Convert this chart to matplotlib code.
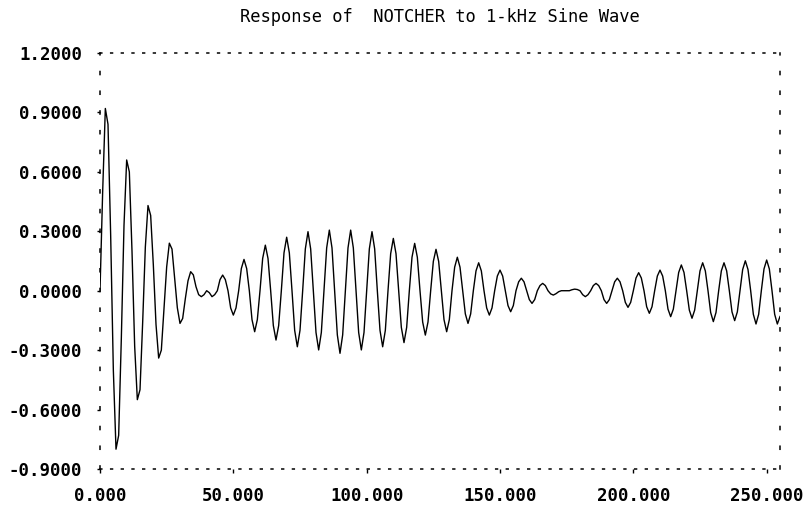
import numpy as np
import matplotlib
matplotlib.use('Agg')
import matplotlib.pyplot as plt

# Salida del filtro NOTCHER, una muestra por fila de 8 (periodo de 1 kHz a 8 kHz)
respuesta = [
    0.000, 0.500, 0.920, 0.840, 0.280, -0.400, -0.800, -0.730,
    -0.240, 0.330, 0.660, 0.600, 0.200, -0.280, -0.550, -0.500,
    -0.160, 0.220, 0.430, 0.380, 0.130, -0.170, -0.340, -0.300,
    -0.090, 0.120, 0.240, 0.210, 0.065, -0.086, -0.165, -0.140,
    -0.040, 0.050, 0.096, 0.080, 0.020, -0.020, -0.030, -0.020,
    0.000, -0.010, -0.030, -0.020, 0.000, 0.056, 0.079, 0.056,
    0.000, -0.087, -0.123, -0.087, 0.000, 0.112, 0.158, 0.112,
    0.000, -0.146, -0.207, -0.146, 0.000, 0.163, 0.230, 0.163,
    0.000, -0.176, -0.249, -0.176, 0.000, 0.191, 0.270, 0.191,
    0.000, -0.200, -0.283, -0.200, 0.000, 0.211, 0.298, 0.211,
    0.000, -0.211, -0.299, -0.211, 0.000, 0.216, 0.306, 0.216,
    0.000, -0.223, -0.316, -0.223, 0.000, 0.216, 0.306, 0.216,
    0.000, -0.211, -0.299, -0.211, 0.000, 0.211, 0.298, 0.211,
    0.000, -0.200, -0.283, -0.200, 0.000, 0.187, 0.264, 0.187,
    0.000, -0.185, -0.262, -0.185, 0.000, 0.169, 0.239, 0.169,
    0.000, -0.158, -0.224, -0.158, 0.000, 0.148, 0.209, 0.148,
    0.000, -0.146, -0.207, -0.146, 0.000, 0.119, 0.169, 0.119,
    0.000, -0.117, -0.165, -0.117, 0.000, 0.100, 0.141, 0.100,
    0.000, -0.087, -0.123, -0.087, 0.000, 0.074, 0.104, 0.074,
    0.000, -0.075, -0.106, -0.075, 0.000, 0.045, 0.063, 0.045,
    0.000, -0.045, -0.064, -0.045, 0.000, 0.026, 0.037, 0.026,
    0.000, -0.016, -0.022, -0.015, -0.005, 0.000, 0.000, 0.000,
    0.000, 0.005, 0.008, 0.006, 0.000, -0.020, -0.030, -0.020,
    0.000, 0.026, 0.037, 0.026, 0.000, -0.045, -0.064, -0.045,
    0.000, 0.045, 0.063, 0.045, 0.000, -0.059, -0.084, -0.059,
    0.000, 0.064, 0.091, 0.064, 0.000, -0.081, -0.114, -0.081,
    0.000, 0.074, 0.104, 0.074, 0.000, -0.093, -0.131, -0.093,
    0.000, 0.092, 0.130, 0.092, 0.000, -0.098, -0.139, -0.098,
    0.000, 0.100, 0.141, 0.100, 0.000, -0.110, -0.156, -0.110,
    0.000, 0.100, 0.141, 0.100, 0.000, -0.107, -0.151, -0.107,
    0.000, 0.107, 0.151, 0.107, 0.000, -0.119, -0.168, -0.119,
    0.000, 0.110, 0.155, 0.110, 0.000, -0.119, -0.168, -0.130,
]
amostras = np.arange(len(respuesta))

ticks_x = [0, 50, 100, 150, 200, 250]
ticks_y = [-0.9, -0.6, -0.3, 0.0, 0.3, 0.6, 0.9, 1.2]
titulo = 'Response of  NOTCHER to 1-kHz Sine Wave'

plt.rcParams['lines.scale_dashes'] = False
fig = plt.figure(figsize=(8.04, 5.09), dpi=100)
ax = fig.add_axes([100 / 804, 40 / 509, 680 / 804, 416 / 509])

ax.plot(amostras, respuesta, color='black', linewidth=1.0)

ax.set_xlim(0, 255)
ax.set_ylim(-0.9, 1.2)

# marco punteado como en la pantalla original
for lado in ['top', 'bottom']:
    ax.spines[lado].set_linestyle((0, (1.3, 6.4)))
    ax.spines[lado].set_linewidth(1.1)
for lado in ['left', 'right']:
    ax.spines[lado].set_linestyle((0, (2.2, 12.0)))
    ax.spines[lado].set_linewidth(1.1)

ax.set_xticks(ticks_x)
ax.set_xticklabels([f'{v:.3f}' for v in ticks_x])
ax.set_yticks(ticks_y)
ax.set_yticklabels([f'{v:.4f}' for v in ticks_y])

fuente = {'family': 'DejaVu Sans Mono', 'weight': 'bold', 'size': 12.5}
for lab in ax.get_xticklabels() + ax.get_yticklabels():
    lab.set_fontfamily(fuente['family'])
    lab.set_fontweight(fuente['weight'])
    lab.set_fontsize(fuente['size'])

ax.tick_params(axis='x', direction='out', length=3, width=1, pad=10)
ax.tick_params(axis='y', direction='out', length=2, width=1, pad=11)

fig.text(0.547, 0.966, titulo, ha='center', va='center',
         family='DejaVu Sans Mono', fontsize=12.3)

plt.savefig('out.png', dpi=100)
